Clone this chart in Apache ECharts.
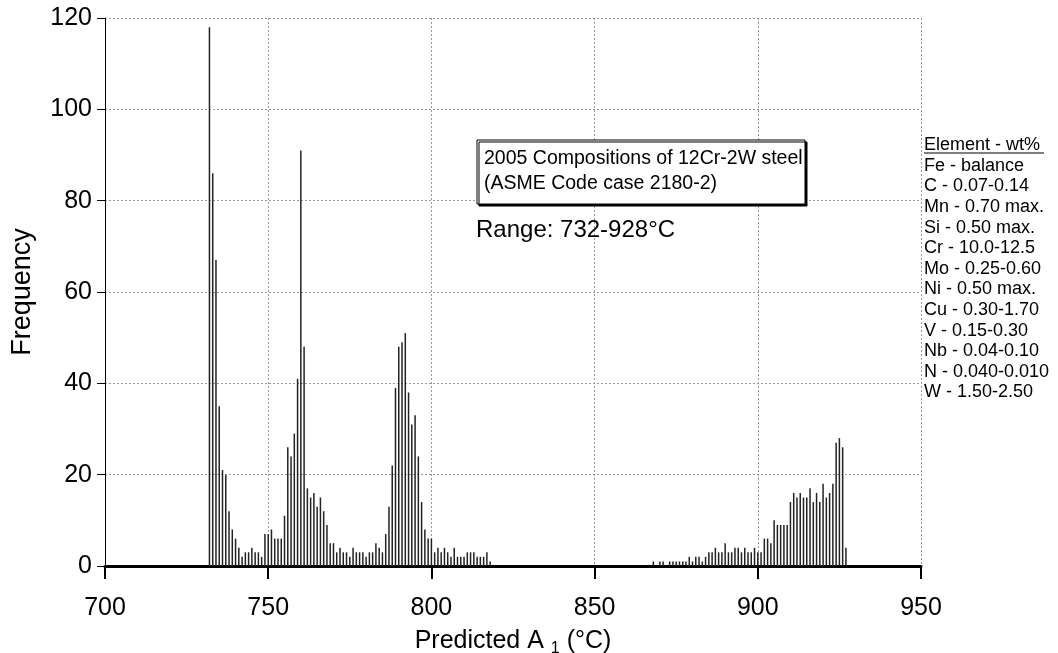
<!DOCTYPE html>
<html>
<head>
<meta charset="utf-8">
<script src="https://cdn.jsdelivr.net/npm/echarts@6/dist/echarts.min.js"></script>
<style>
html, body { margin: 0; padding: 0; background: #fff; }
#main { width: 1058px; height: 653px; }
</style>
</head>
<body>
<div id="main"></div>
<script>
// histogram of predicted A1 temperatures, 1 degC bins
var lowStart = 732;
var lowFreq = [118, 86, 67, 35, 21, 20, 12, 8, 6, 4,
  2, 3, 3, 4, 3, 3, 2, 7, 7, 8,
  6, 6, 6, 11, 26, 24, 29, 41, 91, 48,
  17, 15, 16, 13, 15, 12, 9, 5, 5, 3,
  4, 3, 3, 2, 4, 3, 3, 3, 2, 3,
  3, 5, 4, 3, 7, 13, 22, 39, 48, 49,
  51, 38, 31, 33, 24, 14, 8, 6, 6, 3,
  4, 3, 4, 3, 2, 4, 2, 2, 2, 3,
  3, 3, 2, 2, 2, 3, 1];

var highStart = 868;
var highFreq = [1, 0, 1, 1, 0, 1, 1, 1, 1, 1,
  1, 2, 1, 2, 2, 1, 2, 3, 3, 4,
  3, 3, 5, 3, 3, 4, 4, 3, 4, 3,
  3, 4, 3, 3, 6, 6, 5, 10, 9, 9,
  9, 9, 14, 16, 15, 16, 15, 15, 17, 14,
  16, 14, 18, 15, 16, 18, 27, 28, 26, 4];

var boxLines = ['2005 Compositions of 12Cr-2W steel', '(ASME Code case 2180-2)'];
var rangeNote = 'Range: 732-928°C';
var elementNotes = ['Element - wt%', 'Fe - balance', 'C - 0.07-0.14', 'Mn - 0.70 max.',
  'Si - 0.50 max.', 'Cr - 10.0-12.5', 'Mo - 0.25-0.60', 'Ni - 0.50 max.',
  'Cu - 0.30-1.70', 'V - 0.15-0.30', 'Nb - 0.04-0.10', 'N - 0.040-0.010', 'W - 1.50-2.50'];

var font = "'Liberation Sans', Arial, sans-serif";

var barData = [];
lowFreq.forEach(function (f, i) { barData.push([lowStart + i, f]); });
highFreq.forEach(function (f, i) { barData.push([highStart + i, f]); });

var myChart = echarts.init(document.getElementById('main'));

myChart.setOption({
  animation: false,
  grid: { left: 105, right: 137, top: 18, bottom: 87, outerBoundsMode: 'none' },
  xAxis: {
    type: 'value',
    min: 700,
    max: 950,
    interval: 50,
    axisLine: { show: true, onZero: false, lineStyle: { color: '#000', width: 3 } },
    axisTick: { show: true, length: 13, lineStyle: { color: '#000', width: 2 } },
    axisLabel: { color: '#000', fontSize: 25, fontFamily: font, margin: 30 },
    splitLine: { show: true, lineStyle: { color: '#999', type: [2, 2], width: 1 } },
    name: '{n|Predicted A }{s|1}{n| (°C)}',
    nameLocation: 'middle',
    nameGap: 59,
    nameTextStyle: {
      color: '#000',
      fontFamily: font,
      rich: {
        n: { fontSize: 25, fontFamily: font, color: '#000' },
        s: { fontSize: 16, fontFamily: font, color: '#000', padding: [16, 0, 0, 0] }
      }
    }
  },
  yAxis: {
    type: 'value',
    min: 0,
    max: 120,
    interval: 20,
    axisLine: { show: true, lineStyle: { color: '#000', width: 1 } },
    axisTick: { show: true, length: 8, lineStyle: { color: '#000', width: 1 } },
    axisLabel: { color: '#000', fontSize: 25, fontFamily: font, margin: 13 },
    splitLine: { show: true, lineStyle: { color: '#999', type: [2, 2], width: 1 } },
    name: 'Frequency',
    nameLocation: 'middle',
    nameRotate: 90,
    nameGap: 69,
    nameTextStyle: { color: '#000', fontSize: 27, fontFamily: font }
  },
  series: [
    {
      type: 'bar',
      data: barData,
      barWidth: 1.5,
      silent: true,
      itemStyle: { color: '#222' }
    }
  ],
  graphic: [
    {
      type: 'rect',
      shape: { x: 477, y: 140, width: 328, height: 64 },
      style: { fill: '#fff', stroke: '#000', lineWidth: 1, shadowColor: '#000', shadowOffsetX: 2, shadowOffsetY: 2, shadowBlur: 0 },
      z: 10
    },
    {
      type: 'text',
      x: 484,
      y: 146,
      z: 11,
      style: { text: boxLines.join('\n'), fontSize: 19.5, fontFamily: font, lineHeight: 25, fill: '#000', verticalAlign: 'top' }
    },
    {
      type: 'text',
      x: 476,
      y: 218,
      z: 11,
      style: { text: rangeNote, fontSize: 24, fontFamily: font, fill: '#000', verticalAlign: 'top' }
    },
    {
      type: 'text',
      x: 924,
      y: 135,
      z: 11,
      style: { text: elementNotes.join('\n'), fontSize: 18, fontFamily: font, lineHeight: 20.6, fill: '#000', verticalAlign: 'top' }
    },
    {
      type: 'line',
      z: 11,
      shape: { x1: 924, y1: 153, x2: 1044, y2: 153 },
      style: { stroke: '#000', lineWidth: 1 }
    }
  ]
});
</script>
</body>
</html>
